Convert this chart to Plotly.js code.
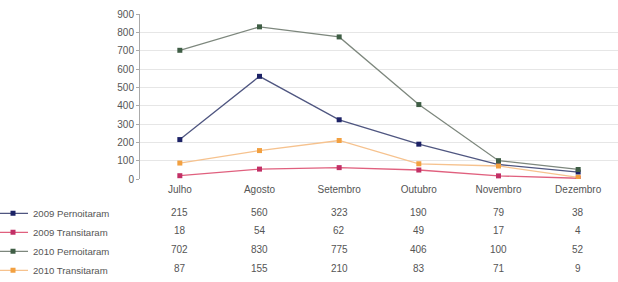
<!DOCTYPE html>
<html><head><meta charset="utf-8">
<script src="https://cdn.plot.ly/plotly-3.0.1.min.js"></script>
<style>html,body{margin:0;padding:0;background:#fff}#c{width:618px;height:282px}</style>
</head><body><div id="c"></div>
<script>
const months = ['Julho','Agosto','Setembro','Outubro','Novembro','Dezembro'];
const seriesNames = ['2009 Pernoitaram','2009 Transitaram','2010 Pernoitaram','2010 Transitaram'];
const p2009 = [215, 560, 323, 190, 79, 38];
const t2009 = [18, 54, 62, 49, 17, 4];
const p2010 = [702, 830, 775, 406, 100, 52];
const t2010 = [87, 155, 210, 83, 71, 9];
const yTicks = [0,100,200,300,400,500,600,700,800,900];

const values = [p2009, t2009, p2010, t2010];
const lineColors = ['#4f5680','#e0607e','#7d877d','#f6c28e'];
const markerColors = ['#1c2266','#c23066','#3f5e45','#f2a040'];

const traces = values.map((v,i)=>({
  type:'scatter', mode:'lines+markers', x:months, y:v, name:seriesNames[i],
  line:{color:lineColors[i], width:1.3},
  marker:{symbol:'square', size:5, color:markerColors[i]}
}));

const rowY = [-0.2,-0.315,-0.43,-0.542];
const annotations = [];
values.forEach((v,i)=>{
  v.forEach((val,j)=>{
    annotations.push({xref:'x', yref:'paper', x:months[j], y:rowY[i], text:String(val),
      showarrow:false, font:{family:'Liberation Sans, Arial, sans-serif', size:10, color:'#555'},
      xanchor:'center', yanchor:'middle'});
  });
});

const layout = {
  width:618, height:282,
  margin:{l:140, r:0, t:14, b:103, autoexpand:false},
  paper_bgcolor:'#fff', plot_bgcolor:'#fff',
  font:{family:'Liberation Sans, Arial, sans-serif', size:10, color:'#555'},
  xaxis:{type:'category', range:[-0.5,5.5], showgrid:false, zeroline:false, showline:false,
    ticks:'', ticklabelstandoff:3, tickfont:{size:10,color:'#555'}},
  yaxis:{range:[0,900], tickvals:yTicks, showgrid:true, gridcolor:'#e6e6e6', zeroline:false,
    showline:true, linecolor:'#aaa', linewidth:1, ticks:'outside', ticklen:3, tickcolor:'#aaa',
    tickfont:{size:10,color:'#555'}},
  showlegend:true,
  legend:{xref:'paper', yref:'paper', x:-0.3075, y:-0.12, xanchor:'left', yanchor:'top',
    itemwidth:30, font:{size:9.6,color:'#555'}, bgcolor:'rgba(0,0,0,0)', tracegroupgap:0},
  annotations:annotations
};
Plotly.newPlot('c', traces, layout, {displayModeBar:false, staticPlot:true});
</script></body></html>
